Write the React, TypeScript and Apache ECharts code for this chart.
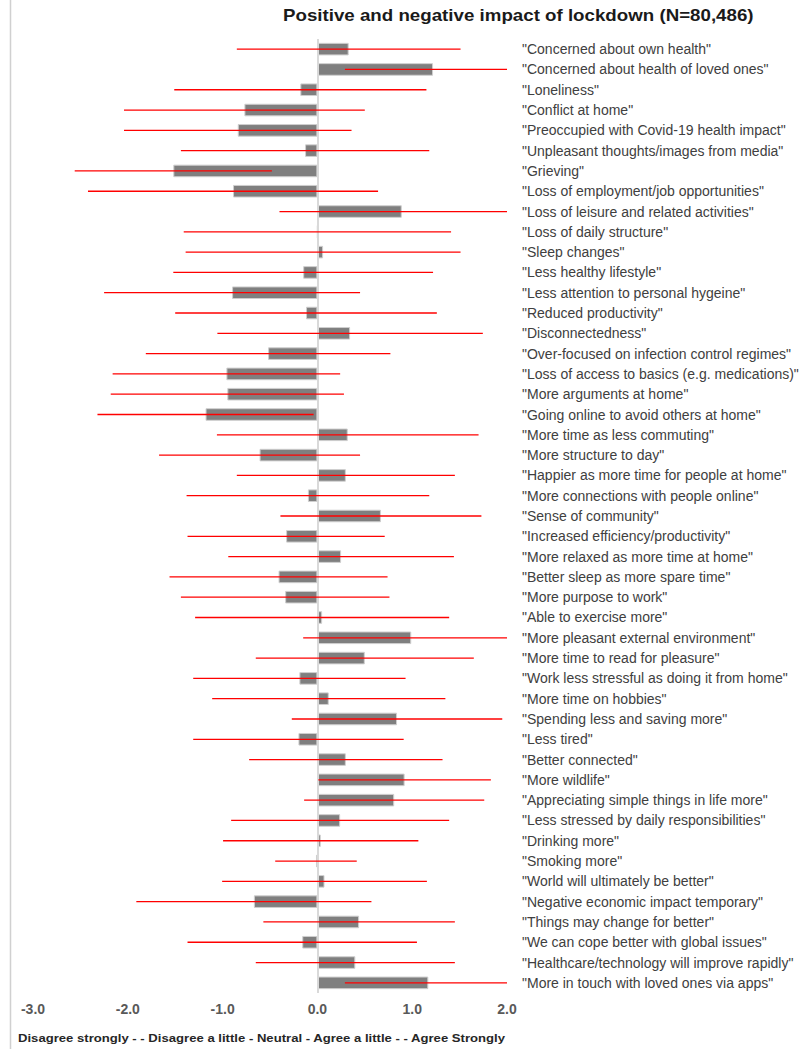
import React, { useEffect, useRef } from "react";
import * as echarts from "echarts";

const categories = [
  '"Concerned about own health"',
  '"Concerned about health of loved ones"',
  '"Loneliness"',
  '"Conflict at home"',
  '"Preoccupied with Covid-19 health impact"',
  '"Unpleasant thoughts/images from media"',
  '"Grieving"',
  '"Loss of employment/job opportunities"',
  '"Loss of leisure and related activities"',
  '"Loss of daily structure"',
  '"Sleep changes"',
  '"Less healthy lifestyle"',
  '"Less attention to personal hygeine"',
  '"Reduced productivity"',
  '"Disconnectedness"',
  '"Over-focused on infection control regimes"',
  '"Loss of access to basics (e.g. medications)"',
  '"More arguments at home"',
  '"Going online to avoid others at home"',
  '"More time as less commuting"',
  '"More structure to day"',
  '"Happier as more time for people at home"',
  '"More connections with people online"',
  '"Sense of community"',
  '"Increased efficiency/productivity"',
  '"More relaxed as more time at home"',
  '"Better sleep as more spare time"',
  '"More purpose to work"',
  '"Able to exercise more"',
  '"More pleasant external environment"',
  '"More time to read for pleasure"',
  '"Work less stressful as doing it from home"',
  '"More time on hobbies"',
  '"Spending less and saving more"',
  '"Less tired"',
  '"Better connected"',
  '"More wildlife"',
  '"Appreciating simple things in life more"',
  '"Less stressed by daily responsibilities"',
  '"Drinking more"',
  '"Smoking more"',
  '"World will ultimately be better"',
  '"Negative economic impact temporary"',
  '"Things may change for better"',
  '"We can cope better with global issues"',
  '"Healthcare/technology will improve rapidly"',
  '"More in touch with loved ones via apps"',
];

const means = [
  0.33, 1.22, -0.18, -0.77, -0.84, -0.13, -1.52, -0.89, 0.89, 0.0,
  0.06, -0.15, -0.9, -0.12, 0.345, -0.52, -0.96, -0.95, -1.18, 0.32,
  -0.61, 0.3, -0.1, 0.67, -0.33, 0.25, -0.41, -0.34, 0.05, 0.99,
  0.5, -0.19, 0.12, 0.84, -0.2, 0.3, 0.92, 0.81, 0.24, 0.035,
  -0.015, 0.075, -0.67, 0.44, -0.16, 0.4, 1.17,
];

const sds = [
  1.18, 0.93, 1.33, 1.27, 1.2, 1.31, 1.04, 1.53, 1.29, 1.41,
  1.45, 1.37, 1.35, 1.38, 1.4, 1.29, 1.2, 1.23, 1.14, 1.38,
  1.06, 1.15, 1.28, 1.06, 1.04, 1.19, 1.15, 1.1, 1.34, 1.14,
  1.15, 1.12, 1.23, 1.11, 1.11, 1.02, 0.91, 0.95, 1.15, 1.03,
  0.43, 1.08, 1.24, 1.01, 1.21, 1.05, 0.88,
];

const xTicks = [-3, -2, -1, 0, 1, 2];
const titleText = "Positive and negative impact of lockdown (N=80,486)";
const scaleText =
  "Disagree strongly - - Disagree a little - Neutral - Agree a little - - Agree Strongly";

export default function App() {
  const ref = useRef<HTMLDivElement>(null);

  useEffect(() => {
    if (!ref.current) return;
    const chart = echarts.init(ref.current, null, { renderer: "svg" });
    const xMin = xTicks[0];
    const xMax = xTicks[xTicks.length - 1];
    const errData = categories.map((c, i) => [i, means[i] - sds[i], means[i] + sds[i]]);

    chart.setOption({
      animation: false,
      grid: { left: 33, right: 300, top: 39, bottom: 56, containLabel: false },
      xAxis: {
        type: "value",
        min: xMin,
        max: xMax,
        interval: 1,
        axisLine: { show: false },
        axisTick: { show: false },
        splitLine: { show: false },
        axisLabel: {
          formatter: (v: number) => v.toFixed(1),
          fontFamily: "Liberation Sans",
          fontSize: 14,
          fontWeight: "bold",
          color: "#595959",
          margin: 9,
        },
      },
      yAxis: {
        type: "category",
        data: categories,
        inverse: true,
        position: "right",
        axisLine: { show: false },
        axisTick: { show: false },
        splitLine: { show: false },
        axisLabel: {
          fontFamily: "Liberation Sans",
          fontSize: 14,
          color: "#404040",
          margin: 15,
          interval: 0,
        },
      },
      graphic: [
        {
          type: "line",
          shape: { x1: 10.5, y1: 0, x2: 10.5, y2: 1049 },
          style: { stroke: "#d0d0d0", lineWidth: 1.5 },
          silent: true,
        },
        {
          type: "text",
          x: 283,
          y: 15,
          scaleX: 1.17,
          style: {
            text: titleText,
            font: "bold 16px 'Liberation Sans'",
            fill: "#1a1a1a",
            verticalAlign: "middle",
          },
        },
        {
          type: "text",
          x: 18,
          y: 1038,
          scaleX: 1.14,
          style: {
            text: scaleText,
            font: "bold 11.5px 'Liberation Sans'",
            fill: "#262626",
            verticalAlign: "middle",
          },
        },
      ],
      series: [
        {
          type: "bar",
          data: means,
          barCategoryGap: "38%",
          itemStyle: { color: "#7f7f7f", borderColor: "#cfcfcf", borderWidth: 1 },
          markLine: {
            silent: true,
            symbol: "none",
            label: { show: false },
            lineStyle: { color: "#d9d9d9", width: 2, type: "solid" },
            data: [{ xAxis: 0 }],
          },
          z: 2,
        },
        {
          type: "custom",
          data: errData,
          encode: { x: [1, 2], y: 0 },
          z: 5,
          renderItem: (params: any, api: any) => {
            const idx = api.value(0);
            const lo = Math.max(xMin, api.value(1));
            const hi = Math.min(xMax, api.value(2));
            const p1 = api.coord([lo, idx]);
            const p2 = api.coord([hi, idx]);
            return {
              type: "line",
              shape: { x1: p1[0], y1: p1[1], x2: p2[0], y2: p2[1] },
              style: { stroke: "#ff0000", lineWidth: 1.3 },
            };
          },
        },
      ],
    });
    return () => chart.dispose();
  }, []);

  return <div ref={ref} style={{ width: 807, height: 1049, position: "absolute", left: 0, top: 0 }} />;
}
